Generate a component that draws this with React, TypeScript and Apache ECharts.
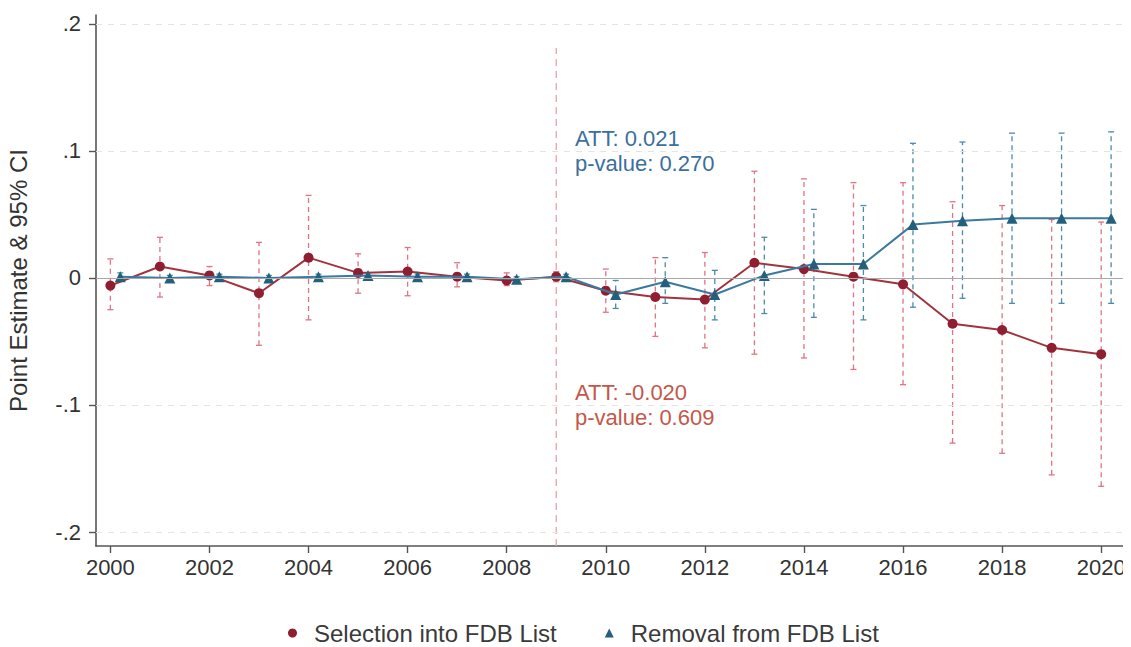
import React, { useEffect, useRef } from "react";
import * as echarts from "echarts";

// Event-study estimates with 95% confidence intervals
const years = [2000, 2001, 2002, 2003, 2004, 2005, 2006, 2007, 2008, 2009, 2010, 2011, 2012, 2013, 2014, 2015, 2016, 2017, 2018, 2019, 2020];

const selEst = [-0.006, 0.009, 0.002, -0.012, 0.016, 0.004, 0.005, 0.001, -0.002, 0.001, -0.010, -0.015, -0.017, 0.012, 0.007, 0.001, -0.005, -0.036, -0.041, -0.055, -0.060];
const selLo = [-0.025, -0.015, -0.006, -0.053, -0.033, -0.012, -0.014, -0.007, -0.006, -0.003, -0.027, -0.046, -0.055, -0.060, -0.063, -0.072, -0.084, -0.130, -0.138, -0.155, -0.164];
const selHi = [0.015, 0.032, 0.009, 0.028, 0.065, 0.019, 0.024, 0.012, 0.004, 0.005, 0.007, 0.016, 0.020, 0.084, 0.078, 0.075, 0.075, 0.060, 0.057, 0.046, 0.044];

const remEst = [0.001, 0.000, 0.001, 0.000, 0.001, 0.002, 0.001, 0.001, -0.001, 0.001, -0.013, -0.003, -0.013, 0.002, 0.011, 0.011, 0.042, 0.045, 0.047, 0.047, 0.047];
const remLo = [-0.002, -0.002, -0.001, -0.002, -0.001, 0.000, -0.001, -0.001, -0.003, -0.001, -0.024, -0.020, -0.033, -0.028, -0.031, -0.033, -0.023, -0.016, -0.020, -0.020, -0.020];
const remHi = [0.004, 0.002, 0.003, 0.002, 0.003, 0.004, 0.003, 0.003, 0.001, 0.003, -0.002, 0.016, 0.006, 0.032, 0.054, 0.057, 0.106, 0.107, 0.114, 0.114, 0.115];

// Removal estimates are plotted slightly to the right of each year
const remOffset = 0.2;

const xTicks = [2000, 2002, 2004, 2006, 2008, 2010, 2012, 2014, 2016, 2018, 2020];
const yTicks = [-0.2, -0.1, 0, 0.1, 0.2];
const yTickLabels = ["-.2", "-.1", "0", ".1", ".2"];

const treatYear = 2009;

const SEL_NAME = "Selection into FDB List";
const REM_NAME = "Removal from FDB List";

const FONT = "'Liberation Sans', Arial, Helvetica, sans-serif";

const RED_LINE = "#a3323f";
const RED_MARK = "#8f1f30";
const RED_CI = "#de7487";
const BLUE_LINE = "#3a7a9e";
const BLUE_MARK = "#245f7e";
const BLUE_CI = "#4d8aab";

function errorBarSeries(xs: number[], lo: number[], hi: number[], color: string) {
  return {
    type: "custom",
    silent: true,
    z: 1,
    data: xs.map((x, i) => [x, lo[i], hi[i]]),
    encode: { x: 0, y: [1, 2] },
    renderItem: (params: any, api: any) => {
      const x = api.value(0);
      const pLo = api.coord([x, api.value(1)]);
      const pHi = api.coord([x, api.value(2)]);
      const cap = 3;
      const style = { stroke: color, lineWidth: 1.3, lineDash: [5, 4] };
      const capStyle = { stroke: color, lineWidth: 1.3 };
      return {
        type: "group",
        children: [
          { type: "line", shape: { x1: pLo[0], y1: pLo[1], x2: pHi[0], y2: pHi[1] }, style },
          { type: "line", shape: { x1: pHi[0] - cap, y1: pHi[1], x2: pHi[0] + cap, y2: pHi[1] }, style: capStyle },
          { type: "line", shape: { x1: pLo[0] - cap, y1: pLo[1], x2: pLo[0] + cap, y2: pLo[1] }, style: capStyle },
        ],
      };
    },
  };
}

export default function App() {
  const ref = useRef<HTMLDivElement>(null);

  useEffect(() => {
    if (!ref.current) return;
    const chart = echarts.init(ref.current, null, { renderer: "svg" });
    const remX = years.map((y) => +(y + remOffset).toFixed(2));

    chart.setOption({
      animation: false,
      backgroundColor: "#ffffff",
      textStyle: { fontFamily: FONT },
      grid: { left: 96, right: 8, top: 7, bottom: 101, containLabel: false, outerBoundsMode: "none" },
      legend: {
        top: 613,
        left: 288,
        padding: 0,
        itemWidth: 9,
        itemHeight: 9,
        itemGap: 48,
        textStyle: { fontSize: 24, lineHeight: 24, color: "#3a3a3a", fontFamily: FONT, padding: [0, 0, 0, 12] },
        data: [
          { name: SEL_NAME, icon: "circle", itemStyle: { color: RED_MARK } },
          { name: REM_NAME, icon: "triangle", itemStyle: { color: BLUE_MARK } },
        ],
      },
      xAxis: {
        type: "value",
        min: 1999.71,
        max: 2020.44,
        axisLine: { show: true, onZero: false, lineStyle: { color: "#555", width: 1.6 } },
        axisTick: { show: true, customValues: xTicks, length: 7, lineStyle: { color: "#555", width: 1.4 } },
        axisLabel: {
          customValues: xTicks,
          fontSize: 22,
          color: "#333",
          margin: 10,
          fontFamily: FONT,
          formatter: (v: number) => String(Math.round(v)),
        },
        splitLine: { show: false },
      },
      yAxis: {
        type: "value",
        min: -0.211,
        max: 0.207,
        name: "Point Estimate & 95% CI",
        nameLocation: "middle",
        nameGap: 66,
        nameTextStyle: { fontSize: 24, color: "#333", fontFamily: FONT },
        axisLine: { show: true, onZero: false, lineStyle: { color: "#555", width: 1.6 } },
        axisTick: { show: true, customValues: yTicks, length: 7, lineStyle: { color: "#555", width: 1.4 } },
        axisLabel: {
          customValues: yTicks,
          fontSize: 22,
          color: "#333",
          margin: 15,
          fontFamily: FONT,
          formatter: (v: number) => {
            const i = yTicks.findIndex((t) => Math.abs(t - v) < 1e-9);
            return i >= 0 ? yTickLabels[i] : "";
          },
        },
        splitLine: { show: false },
      },
      graphic: [
        {
          type: "text",
          left: 575,
          top: 118,
          style: { text: "ATT: 0.021\np-value: 0.270", fill: "#3b6f9c", fontSize: 22, lineHeight: 25, fontFamily: FONT },
        },
        {
          type: "text",
          left: 575,
          top: 372,
          style: { text: "ATT: -0.020\np-value: 0.609", fill: "#c4574a", fontSize: 22, lineHeight: 25, fontFamily: FONT },
        },
      ],
      series: [
        {
          // reference lines: zero line and dashed gridlines
          type: "line",
          data: [],
          silent: true,
          markLine: {
            silent: true,
            symbol: "none",
            label: { show: false },
            data: [
              ...yTicks.filter((t) => t !== 0).map((t) => ({
                yAxis: t,
                lineStyle: { color: "#e6e3e3", type: [6, 6], width: 1.2 },
              })),
              { yAxis: 0, lineStyle: { color: "#a8a8a8", type: "solid", width: 1.2 } },
            ],
          },
        },
        {
          // treatment year marker
          type: "line",
          silent: true,
          symbol: "none",
          z: 1,
          data: [
            [treatYear, -0.211],
            [treatYear, 0.181],
          ],
          lineStyle: { color: "#e4a2ab", width: 1.3, type: [7, 5] },
        },
        errorBarSeries(years, selLo, selHi, RED_CI),
        errorBarSeries(remX, remLo, remHi, BLUE_CI),
        {
          name: SEL_NAME,
          type: "line",
          z: 3,
          data: years.map((y, i) => [y, selEst[i]]),
          symbol: "circle",
          symbolSize: 10,
          lineStyle: { color: RED_LINE, width: 2 },
          itemStyle: { color: RED_MARK },
        },
        {
          name: REM_NAME,
          type: "line",
          z: 4,
          data: remX.map((x, i) => [x, remEst[i]]),
          symbol: "triangle",
          symbolSize: 11,
          lineStyle: { color: BLUE_LINE, width: 2 },
          itemStyle: { color: BLUE_MARK },
        },
      ],
    });

    return () => chart.dispose();
  }, []);

  // Full page width, shifted left over the default body margin
  return <div ref={ref} style={{ width: 1131, height: 639, marginLeft: -8 }} />;
}
